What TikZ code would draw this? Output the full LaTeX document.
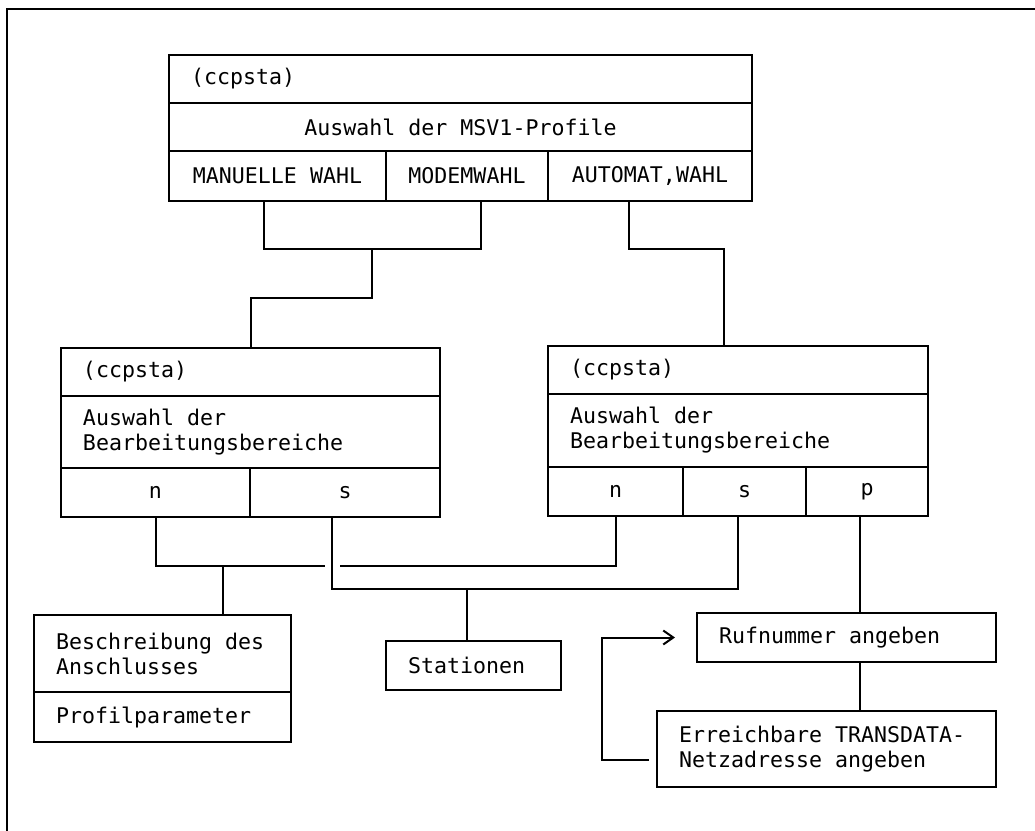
\documentclass[tikz,border=0pt]{standalone}
\usepackage{fontspec}
\newfontfamily\dinfont{DejaVu Sans Mono}
\usetikzlibrary{arrows.meta, positioning, calc}
\tikzset{
	cell-node/.style={
		rectangle,
		draw=black, line width=1pt,
		inner sep=0pt, outer sep=0pt,
		anchor=north west,
		font=\dinfont\fontsize{10.8}{12.5}\selectfont,
		execute at begin node={\spaceskip=\fontdimen2\font\relax}
	},
	cell-node-left/.style={
		cell-node,
		inner xsep=11pt,
		align=left
	},
	cell-node-center/.style={
		cell-node,
		align=center
	},
	edge-style/.style = {line width=1pt},
	back-style/.style = {edge-style, -{Straight Barb[length=5pt,width=7pt]}},
}

\begin{document}
\begin{tikzpicture}[x=0.5pt, y=-0.5pt]
	\useasboundingbox (0,0) rectangle (1035,831);
	\draw[edge-style] (7,831) -- (7,9) -- (1035,9);

	% MSV1 profiles
	\node (ccp-top) [cell-node-left, text width=269.5pt, minimum height=24pt] at (169,55) {(ccpsta)};
	\node (msv) [cell-node-center, minimum width=291.5pt, minimum height=24pt] at (ccp-top.south west) {Auswahl der MSV1-Profile};
	\node (man) [cell-node-center, minimum width=108.5pt, minimum height=25pt] at (msv.south west) {MANUELLE WAHL};
	\node (modem) [cell-node-center, minimum width=81pt, minimum height=25pt] at (man.north east) {MODEMWAHL};
	\node (auto) [cell-node-center, minimum width=102pt, minimum height=25pt] at (modem.north east) {AUTOMAT,WAHL};

	% left selection
	\node (lhead) [cell-node-left, text width=167.5pt, minimum height=24pt] at (61,348) {(ccpsta)};
	\node (lsel) [cell-node-left, text width=167.5pt, minimum height=36pt] at (lhead.south west) {Auswahl der\\Bearbeitungsbereiche};
	\node (ln) [cell-node-center, minimum width=94.5pt, minimum height=24.5pt] at (lsel.south west) {n};
	\node (ls) [cell-node-center, minimum width=95pt, minimum height=24.5pt] at (ln.north east) {s};

	% right selection
	\node (rhead) [cell-node-left, text width=168pt, minimum height=24pt] at (548,346) {(ccpsta)};
	\node (rsel) [cell-node-left, text width=168pt, minimum height=36.5pt] at (rhead.south west) {Auswahl der\\Bearbeitungsbereiche};
	\node (rn) [cell-node-center, minimum width=67.5pt, minimum height=24.5pt] at (rsel.south west) {n};
	\node (rs) [cell-node-center, minimum width=61.5pt, minimum height=24.5pt] at (rn.north east) {s};
	\node (rp) [cell-node-center, minimum width=61pt, minimum height=24.5pt] at (rs.north east) {p};

	% targets
	\node (besch) [cell-node-left, text width=106.5pt, minimum height=38.5pt] at (34,615) {Beschreibung des\\Anschlusses};
	\node (prof) [cell-node-left, text width=106.5pt, minimum height=25pt] at (besch.south west) {Profilparameter};
	\node (stat) [cell-node-left, text width=65.5pt, minimum height=24.5pt] at (386,641) {Stationen};
	\node (ruf) [cell-node-left, text width=127.5pt, minimum height=24.5pt] at (697,613) {Rufnummer angeben};
	\node (erreich) [cell-node-left, text width=147.5pt, minimum height=38pt] at (657,711) {Erreichbare TRANSDATA-\\Netzadresse angeben};

	\coordinate (j-top) at (372,249);
	\coordinate (j-n) at (223,566);
	\coordinate (gap-l) at (325,566);
	\coordinate (gap-r) at (340,566);
	\coordinate (j-s) at (467,589);
	\coordinate (p-line) at ([xshift=-3.5pt]rp.south);

	\draw[edge-style] ([xshift=-6.75pt]man.south) -- ++(0,48) -| ([xshift=7pt]modem.south);
	\draw[edge-style] (j-top) -- ++(0,49) -| (lhead.north);
	\draw[edge-style] ([xshift=-10.5pt]auto.south) -- ++(0,48) -| ([xshift=-7pt]rhead.north);

	\draw[edge-style] (ln.south) |- (gap-l);
	\draw[edge-style] (gap-r) -| (rn.south);
	\draw[edge-style] (j-n) -- (j-n |- besch.north);
	\draw[edge-style] ([xshift=-6.5pt]ls.south) -- ++(0,72) -| ([xshift=-3.25pt]rs.south);
	\draw[edge-style] (j-s) -- (j-s |- stat.north);

	\draw[edge-style] (p-line) -- (p-line |- ruf.north);
	\draw[edge-style] (p-line |- ruf.south) -- (p-line |- erreich.north);
	\draw[back-style] ([xshift=-4pt, yshift=-5.5pt]erreich.west) -- ++(-47,0) |- ([xshift=-11pt]ruf.west);
\end{tikzpicture}
\end{document}
